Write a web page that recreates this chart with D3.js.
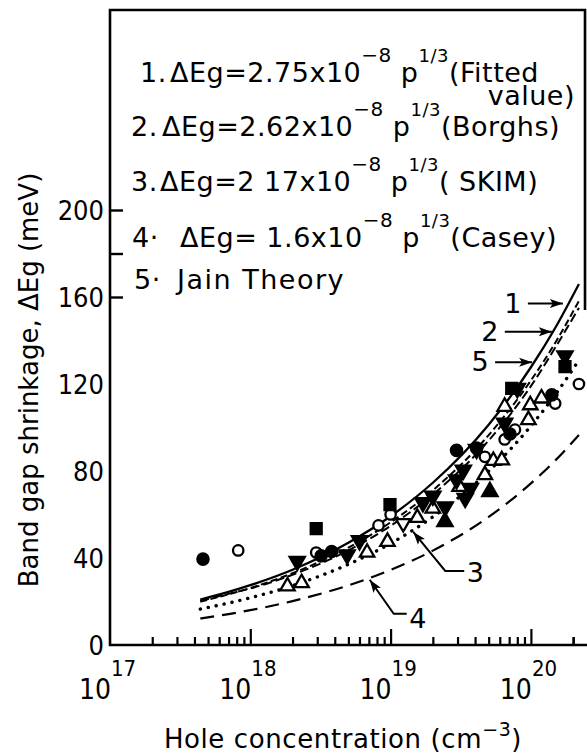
<!DOCTYPE html>
<html>
<head>
<meta charset="utf-8">
<script src="https://cdn.jsdelivr.net/npm/d3@7"></script>
<style>
  body { margin: 0; background: #fff; }
  svg { display: block; font-family: "DejaVu Sans", sans-serif; }
  .num { font-family: "Liberation Sans Narrow", "DejaVu Sans Condensed", "DejaVu Sans", sans-serif; }
</style>
</head>
<body>
<script>
// band gap shrinkage vs hole concentration

// axis
var xMajor = [1e17, 1e18, 1e19, 1e20];
var xExponents = ["17", "18", "19", "20"];
var yLabels = [0, 40, 80, 120, 160, 200];
var yTickMarks = [160, 180, 200];

// curves
var curveP = [4.4e17, 7e17, 1e18, 2e18, 5e18, 1e19, 2e19, 5e19, 1e20, 1.5e20, 2.2e20];
var fitted = [20.9, 24.4, 27.5, 34.6, 47.0, 59.2, 74.6, 101.3, 127.7, 146.1, 166.0];
var borghs = [19.9, 23.3, 26.2, 33.0, 44.8, 56.4, 71.1, 96.5, 121.6, 139.2, 158.2];
var skim = [16.5, 19.3, 21.7, 27.3, 37.1, 46.7, 58.9, 79.9, 100.7, 115.3, 131.0];
var casey = [12.2, 14.2, 16.0, 20.2, 27.4, 34.5, 43.4, 58.9, 74.3, 85.0, 96.6];
var jain = [20.3, 23.5, 26.0, 32.3, 43.5, 54.8, 69.2, 94.0, 119.0, 137.0, 155.0];

// measured points [p, dEg]
var filledCircles = [[4.6e17, 39.5], [3.2e18, 41], [3.8e18, 43], [2.95e19, 89.5],
  [4.1e19, 90.5], [7.1e19, 97], [1.41e20, 115]];
var openCircles = [[8.2e17, 43.5], [2.95e18, 42.5], [8.2e18, 55], [1.0e19, 60],
  [4.7e19, 86.5], [6.5e19, 94.5], [7.7e19, 99], [1.49e20, 111], [2.2e20, 120]];
var filledSquares = [[2.95e18, 53.5], [9.9e18, 64.5], [7.3e19, 118], [1.75e20, 128]];
var filledDown = [[2.16e18, 38.5], [4.9e18, 41.5], [6.0e18, 48], [1.7e19, 65.5],
  [2.0e19, 68.5], [2.45e19, 63.5], [2.95e19, 76], [3.3e19, 80.5], [3.7e19, 72],
  [3.4e19, 67.5], [4.1e19, 90], [6.5e19, 102], [8.0e19, 118], [1.75e20, 133]];
var openUp = [[1.84e18, 27], [2.32e18, 28.5], [6.8e18, 42.5], [9.5e18, 47.5],
  [1.55e19, 58.5], [2.0e19, 62.8], [3.1e19, 72.8], [4.7e19, 78.2], [5.4e19, 84.7],
  [6.2e19, 85], [6.5e19, 109.6], [9.6e19, 103.5], [9.9e19, 110.3], [1.19e20, 113.4]];
var filledUp = [[2.44e19, 56.7], [5.1e19, 70.5]];
var openDown = [[1.23e19, 56]];

// legend text
var legendNums = ["1.", "2.", "3.", "4\u00b7", "5\u00b7"];
var legendCoefs = ["2.75", "2.62", "2 17", " 1.6"];
var legendRefs = ["(Fitted", "(Borghs)", "( SKIM)", "(Casey)"];
var legendJain = "Jain Theory";

// curve labels and where their arrows point
var annoLabels = ["1", "2", "5", "3", "4"];
var annoTips = [[1.69e20, 157], [1.41e20, 144], [1.02e20, 130], [1.45e19, 52], [7.1e18, 30]];

var width = 587, height = 754;
var svg = d3.select("body").append("svg").attr("width", width).attr("height", height);

var x = d3.scaleLog().domain([1e17, 2.43e20]).range([110, 585]);
var y = d3.scaleLinear().domain([0, 200]).range([645, 210]);

var defs = svg.append("defs");
defs.append("marker").attr("id", "head")
  .attr("markerUnits", "userSpaceOnUse")
  .attr("markerWidth", 14).attr("markerHeight", 10)
  .attr("refX", 13).attr("refY", 5).attr("orient", "auto")
  .append("path").attr("d", "M0,0.5 L13,5 L0,9.5 L3,5 z").attr("fill", "#000");

// frame
svg.append("path")
  .attr("d", "M585,310 L585,10 L110,10 L110,645 L587,645")
  .attr("fill", "none").attr("stroke", "#000").attr("stroke-width", 2.6);

// x ticks (inward)
var minorTicks = x.ticks().filter(function (t) { return xMajor.indexOf(t) < 0; });
minorTicks.push(2e20);
svg.append("g").attr("transform", "translate(0,645)")
  .call(d3.axisBottom(x).tickValues(minorTicks).tickSize(-8).tickFormat(""))
  .call(function (g) { g.select(".domain").remove(); })
  .selectAll("line").attr("stroke-width", 2.2);
svg.append("g").attr("transform", "translate(0,645)")
  .call(d3.axisBottom(x).tickValues(xMajor.slice(1)).tickSize(-16).tickFormat(""))
  .call(function (g) { g.select(".domain").remove(); })
  .selectAll("line").attr("stroke-width", 2.2);

// y ticks
svg.append("g").attr("transform", "translate(110,0)")
  .call(d3.axisLeft(y).tickValues(yTickMarks).tickSize(-13).tickFormat(""))
  .call(function (g) { g.select(".domain").remove(); })
  .selectAll("line").attr("stroke-width", 2.4);

// tick labels
svg.append("g").selectAll("text").data(yLabels).join("text")
  .attr("class", "num")
  .attr("x", 104).attr("y", function (d) { return y(d) + 10; })
  .attr("text-anchor", "end").attr("font-size", 27)
  .text(function (d) { return d; });

var xl = svg.append("g");
xl.selectAll("text.base").data(xMajor).join("text").attr("class", "num base")
  .attr("x", function (d) { return x(d) + 1; }).attr("y", 699)
  .attr("text-anchor", "end").attr("font-size", 28).text("10");
xl.selectAll("text.exp").data(xMajor).join("text").attr("class", "num exp")
  .attr("x", function (d) { return x(d) + 1; }).attr("y", 676)
  .attr("font-size", 22)
  .text(function (d, i) { return xExponents[i]; });

// axis titles
var xt = svg.append("text").attr("x", 343).attr("y", 748)
  .attr("text-anchor", "middle").attr("font-size", 26).attr("letter-spacing", 0.6);
xt.append("tspan").text("Hole concentration (cm");
xt.append("tspan").attr("dy", -12).attr("font-size", 19).text("\u22123");
xt.append("tspan").attr("dy", 12).text(")");

svg.append("text").attr("transform", "translate(38,380) rotate(-90)")
  .attr("text-anchor", "middle").attr("font-size", 26)
  .text("Band gap shrinkage, \u0394Eg (meV)");

// curves
var line = d3.line()
  .x(function (d) { return x(d[0]); })
  .y(function (d) { return y(d[1]); })
  .curve(d3.curveMonotoneX);
function pairs(vals) { return curveP.map(function (p, i) { return [p, vals[i]]; }); }

var curves = [
  { v: casey, dash: "14,8", w: 2.2, cap: "butt" },
  { v: skim, dash: "0.1,8", w: 3.4, cap: "round" },
  { v: jain, dash: "9,4", w: 2, cap: "butt" },
  { v: borghs, dash: "7,3.5", w: 2, cap: "butt" },
  { v: fitted, dash: null, w: 2.3, cap: "butt" }
];
svg.append("g").selectAll("path").data(curves).join("path")
  .attr("d", function (d) { return line(pairs(d.v)); })
  .attr("fill", "none").attr("stroke", "#000")
  .attr("stroke-width", function (d) { return d.w; })
  .attr("stroke-linecap", function (d) { return d.cap; })
  .attr("stroke-dasharray", function (d) { return d.dash; });

// points
var sets = [
  { d: openUp, type: d3.symbolTriangle, size: 90, fill: "#fff", rot: 0 },
  { d: openDown, type: d3.symbolTriangle, size: 90, fill: "#fff", rot: 180 },
  { d: openCircles, type: d3.symbolCircle, size: 85, fill: "#fff", rot: 0 },
  { d: filledUp, type: d3.symbolTriangle, size: 100, fill: "#000", rot: 0 },
  { d: filledDown, type: d3.symbolTriangle, size: 100, fill: "#000", rot: 180 },
  { d: filledSquares, type: d3.symbolSquare, size: 120, fill: "#000", rot: 0 },
  { d: filledCircles, type: d3.symbolCircle, size: 100, fill: "#000", rot: 0 }
];
sets.forEach(function (s) {
  svg.append("g").selectAll("path").data(s.d).join("path")
    .attr("d", d3.symbol().type(s.type).size(s.size))
    .attr("transform", function (d) {
      return "translate(" + x(d[0]) + "," + y(d[1]) + ") rotate(" + s.rot + ")";
    })
    .attr("fill", s.fill).attr("stroke", "#000").attr("stroke-width", 2.3);
});

// curve labels with arrows
var anno = svg.append("g");
annoTips.forEach(function (t, i) {
  var tx = x(t[0]), ty = y(t[1]), pts, lx, ly;
  if (i < 3) {
    var len = [35, 47, 37][i];
    pts = [[tx - len, ty], [tx, ty]];
    lx = tx - len - 15; ly = ty + 9;
  } else if (i === 3) {
    pts = [[tx + 51, ty + 39], [tx + 32, ty + 39], [tx, ty]];
    lx = tx + 62; ly = ty + 50;
  } else {
    pts = [[tx + 37, ty + 34], [tx + 24, ty + 34], [tx, ty]];
    lx = tx + 48; ly = ty + 48;
  }
  anno.append("path").attr("d", d3.line()(pts))
    .attr("fill", "none").attr("stroke", "#000").attr("stroke-width", 2)
    .attr("marker-end", "url(#head)");
  anno.append("text").attr("x", lx).attr("y", ly)
    .attr("text-anchor", "middle").attr("font-size", 27).text(annoLabels[i]);
});

// legend
var legendPos = [
  { nx: 140, ex: 170, y: 82 },
  { nx: 131, ex: 162, y: 136 },
  { nx: 131, ex: 160, y: 191 },
  { nx: 132, ex: 180, y: 247 },
  { nx: 134, ex: 177, y: 289 }
];
legendPos.forEach(function (p, i) {
  var t = svg.append("text").attr("y", p.y).attr("font-size", 27).attr("letter-spacing", 0.5);
  t.append("tspan").attr("x", p.nx).text(legendNums[i]);
  if (i < 4) {
    t.append("tspan").attr("x", p.ex).text("\u0394Eg=" + legendCoefs[i] + "x10");
    t.append("tspan").attr("dy", -20).attr("font-size", 20).text("\u22128");
    t.append("tspan").attr("dy", 20).text(" p");
    t.append("tspan").attr("dy", -20).attr("font-size", 18).text("1/3");
    t.append("tspan").attr("dy", 20).text(legendRefs[i]);
  } else {
    t.append("tspan").attr("x", p.ex).attr("letter-spacing", 1.5).text(legendJain);
  }
});
svg.append("text").attr("x", 575).attr("y", 105).attr("text-anchor", "end")
  .attr("font-size", 27).attr("letter-spacing", 0.5).text("value)");
</script>
</body>
</html>
